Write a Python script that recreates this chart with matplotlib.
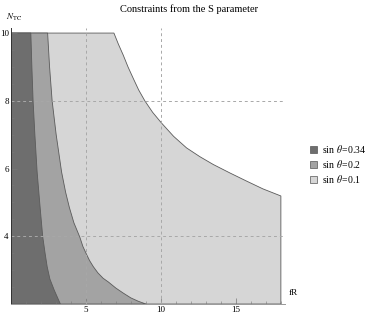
import matplotlib
matplotlib.use("Agg")
import matplotlib.pyplot as plt
from matplotlib.patches import Patch

plt.rcParams['font.family'] = ['Liberation Serif', 'DejaVu Serif']
plt.rcParams['mathtext.fontset'] = 'stix'

# boundaries (fR at given N_TC)
dark_N = [2.0, 2.4, 2.74, 3.1, 3.5, 4.0, 4.85, 5.9, 7.0, 8.0, 9.0, 10.0]
dark_fR = [3.3, 2.9, 2.6, 2.42, 2.28, 2.12, 1.95, 1.75, 1.6, 1.48, 1.4, 1.33]

mid_N = [2.0, 2.08, 2.18, 2.32, 2.47, 2.65, 2.76, 2.92, 3.1, 3.28, 3.47,
         3.7, 3.97, 4.4, 4.85, 5.3, 5.9, 7.0, 8.0, 9.0, 10.0]
mid_fR = [9.0, 8.5, 8.0, 7.5, 7.0, 6.5, 6.15, 5.8, 5.5, 5.25, 5.04,
          4.8, 4.6, 4.2, 3.9, 3.65, 3.38, 3.02, 2.75, 2.58, 2.45]

light_N = [2.0, 5.19, 5.4, 5.63, 5.87, 6.12, 6.35, 6.61, 6.95, 7.34, 7.66,
           8.0, 8.32, 8.67, 9.0, 9.35, 9.67, 10.0]
light_fR = [18.0, 18.0, 16.8, 15.71, 14.6, 13.49, 12.6, 11.71, 10.85, 10.05,
            9.45, 8.93, 8.52, 8.15, 7.81, 7.49, 7.17, 6.87]

labels = [r'sin $\,\theta$=0.34', r'sin $\,\theta$=0.2', r'sin $\,\theta$=0.1']
colors = ['#6e6e6e', '#a3a3a3', '#d6d6d6']

fig = plt.figure(figsize=(3.75, 3.18), dpi=100)
ax = fig.add_axes([0.029, 0.044, 0.732, 0.868])

edge = '#5a5a5a'
for N, fR, c in [(light_N, light_fR, colors[2]), (mid_N, mid_fR, colors[1]),
                 (dark_N, dark_fR, colors[0])]:
    xs = [0.0] + list(fR) + [0.0]
    ys = [N[0]] + list(N) + [N[-1]]
    ax.fill(xs, ys, facecolor=c, edgecolor=edge, linewidth=0.6, zorder=1)

# grid lines
for gx in [5, 10]:
    ax.axvline(gx, color='#a8a8a8', ls=(0, (3, 3)), lw=0.7, zorder=2)
for gy in [4, 8]:
    ax.axhline(gy, color='#a8a8a8', ls=(0, (3, 3)), lw=0.7, zorder=2)

ax.set_xlim(0, 18.3)
ax.set_ylim(2, 10.15)
ax.spines['top'].set_visible(False)
ax.spines['right'].set_visible(False)
ax.spines['left'].set_color('#333333')
ax.spines['bottom'].set_color('#999999')
ax.spines['left'].set_linewidth(0.7)
ax.spines['bottom'].set_linewidth(0.7)

ax.set_xticks([5, 10, 15])
ax.set_xticks([1, 2, 3, 4, 6, 7, 8, 9, 11, 12, 13, 14, 16, 17, 18], minor=True)
ax.set_yticks([4, 6, 8, 10])
ax.set_yticks([2.5, 3, 3.5, 4.5, 5, 5.5, 6.5, 7, 7.5, 8.5, 9, 9.5], minor=True)
ax.tick_params(which='both', direction='in', color='#777777', labelsize=6.5, pad=1.5)
ax.tick_params(which='major', length=4, width=0.5)
ax.tick_params(which='minor', length=2, width=0.4)

ax.text(1.012, 0.04, 'fR', transform=ax.transAxes, fontsize=6.5, ha='left', va='center')
ax.text(0.01, 1.04, r'$N_{\rm TC}$', transform=ax.transAxes, fontsize=6.5, ha='center', va='center')

fig.suptitle('Constraints from the S parameter', x=0.505, y=0.985, fontsize=7.5)

handles = [Patch(facecolor=c, edgecolor='#555555', linewidth=0.5) for c in colors]
fig.legend(handles, labels, loc='center left', bbox_to_anchor=(0.815, 0.484),
           frameon=False, fontsize=7, handlelength=0.7, handleheight=0.7,
           handletextpad=0.5, labelspacing=0.3, borderpad=0)

fig.savefig('out.png', dpi=100)
